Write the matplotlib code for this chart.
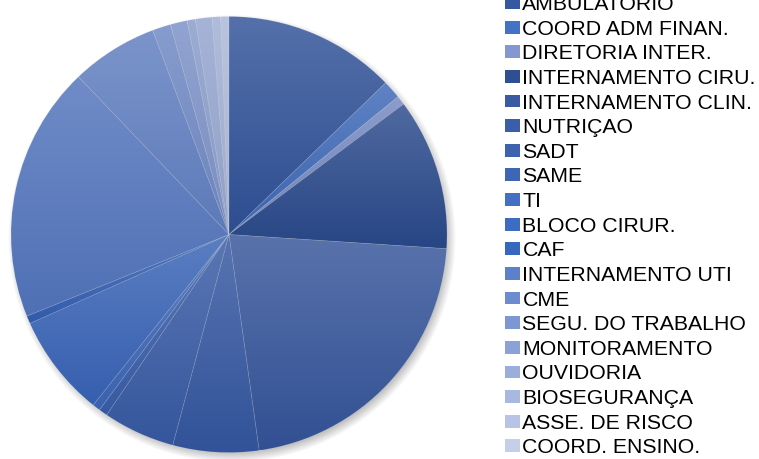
import numpy as np
import matplotlib
matplotlib.use("Agg")
import matplotlib.pyplot as plt
from matplotlib.patches import Patch
from matplotlib.colors import to_rgb

categories = ["AMBULATORIO", "COORD ADM FINAN.", "DIRETORIA INTER.", "INTERNAMENTO CIRU.",
              "INTERNAMENTO CLIN.", "NUTRIÇAO", "SADT", "SAME", "TI", "BLOCO CIRUR.", "CAF",
              "INTERNAMENTO UTI", "CME", "SEGU. DO TRABALHO", "MONITORAMENTO", "OUVIDORIA",
              "BIOSEGURANÇA", "ASSE. DE RISCO", "COORD. ENSINO."]
values = [12.75, 1.36, 0.67, 11.25, 21.75, 6.36, 5.33, 0.64, 0.58, 7.61, 0.58,
          18.97, 6.44, 1.36, 1.25, 0.61, 1.22, 0.64, 0.61]
colors = ["#3558A0", "#4472C4", "#8497D0", "#2E4F92", "#3A5BA2", "#3A5EAA", "#3E62AE",
          "#3F66B4", "#4470C4", "#3E6CC2", "#3867BE", "#5C80CA", "#6C8CCF", "#7D97D3",
          "#8CA1D6", "#9BAEDB", "#A8B8E0", "#B7C4E5", "#C5CFEA"]

W, H = 759, 459
fig = plt.figure(figsize=(W / 100, H / 100), dpi=100)
ax = fig.add_axes([0, 0, 1, 1])
ax.set_xlim(0, W)
ax.set_ylim(0, H)
ax.axis("off")

cx, cy, R = 229, H - 234.5, 218

# soft shadow
gx, gy = np.meshgrid(np.arange(0, W), np.arange(0, H))
d = np.hypot(gx + 0.5 - (cx + 3), gy + 0.5 - (cy - 4))
blur = 6.0
alpha = np.clip((R + blur - d) / (2 * blur), 0, 1) * 0.45
shadow = np.zeros((H, W, 4))
shadow[..., :3] = 0.35
shadow[..., 3] = alpha
ax.imshow(shadow, extent=(0, W, 0, H), origin="lower", zorder=0, interpolation="bilinear")

wedges, _ = ax.pie(values, colors=colors, startangle=90, counterclock=False,
                   center=(cx, cy), radius=R, frame=True,
                   wedgeprops=dict(linewidth=0.5, edgecolor=(1, 1, 1, 0.12)))
ax.set_xlim(0, W)
ax.set_ylim(0, H)
ax.set_aspect("auto")
ax.axis("off")


def mix(c, o, t):
    return tuple((1 - t) * a + t * b for a, b in zip(c, o))


for w, col in zip(wedges, colors):
    base = to_rgb(col)
    top = mix(base, (0.62, 0.66, 0.76), 0.30)
    bot = mix(base, (0.0, 0.05, 0.2), 0.14)
    path = w.get_path()
    verts = w.get_transform().transform(path.vertices)
    verts = ax.transData.inverted().transform(verts)
    y0, y1 = verts[:, 1].min(), verts[:, 1].max()
    x0, x1 = verts[:, 0].min(), verts[:, 0].max()
    n = 64
    t = np.linspace(0, 1, n)[:, None]
    grad = np.zeros((n, 1, 3))
    for k in range(3):
        grad[:, 0, k] = (bot[k] + (top[k] - bot[k]) * t)[:, 0]
    im = ax.imshow(grad, extent=(x0, x1, y0, y1), origin="lower", aspect="auto",
                   interpolation="bilinear", zorder=1)
    im.set_clip_path(w)
    w.set_facecolor("none")
    w.set_zorder(2)

handles = [Patch(facecolor=c, edgecolor="none") for c in colors]
fig.legend(handles, categories, loc="upper left",
           bbox_to_anchor=(505 / W, (H + 5) / H), frameon=False,
           prop=dict(family="Liberation Sans", size=15.3),
           borderpad=0, borderaxespad=0, labelspacing=0.265,
           handlelength=0.7, handleheight=0.55, handletextpad=0.12)

fig.savefig("out.png", dpi=100)
